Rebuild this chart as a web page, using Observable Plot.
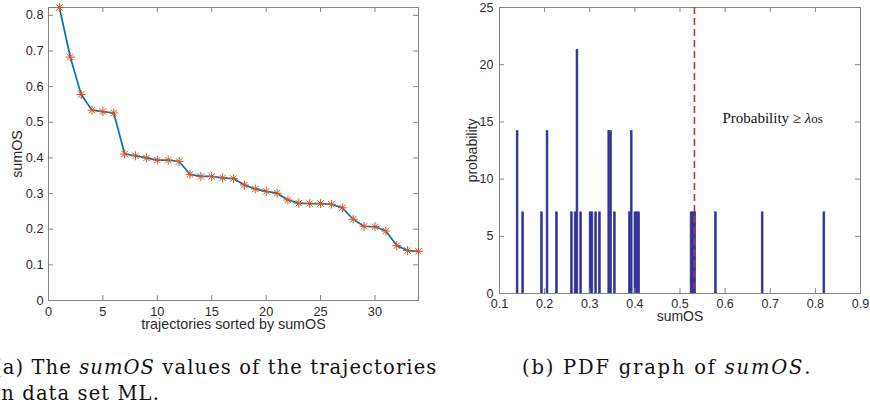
<!DOCTYPE html>
<html><head><meta charset="utf-8">
<script src="https://cdn.jsdelivr.net/npm/d3@7"></script>
<script src="https://cdn.jsdelivr.net/npm/@observablehq/plot@0.6"></script>
<style>
body{margin:0;background:#fff;}
#wrap{position:relative;width:870px;height:412px;overflow:hidden;background:#fff;}
.panel{position:absolute;top:0;}
.cap{position:absolute;font-family:"DejaVu Serif",serif;font-size:19.5px;color:#111;white-space:pre;line-height:26px;}
</style></head><body>
<div id="wrap">
  <div id="left" class="panel" style="left:0px"></div>
  <div id="right" class="panel" style="left:440px"></div>
  <div class="cap" style="left:-6px;top:355px;letter-spacing:1.1px">(a) The <i>sumOS</i> values of the trajectories
in data set ML.</div>
  <div class="cap" style="left:522px;top:355px;letter-spacing:1.8px">(b) PDF graph of <i>sumOS</i>.</div>
</div>
<script>
// ---- data ----
const trajectory = [1,2,3,4,5,6,7,8,9,10,11,12,13,14,15,16,17,18,19,20,21,22,23,24,25,26,27,28,29,30,31,32,33,34];
const sumOS = [0.822,0.683,0.578,0.534,0.530,0.526,0.411,0.406,0.400,0.394,0.394,0.390,0.354,0.348,0.348,0.344,0.342,0.324,0.313,0.306,0.301,0.282,0.273,0.272,0.272,0.270,0.260,0.228,0.208,0.207,0.195,0.154,0.140,0.138];
const xTicksA = [0,5,10,15,20,25,30];
const yTicksA = [0,0.1,0.2,0.3,0.4,0.5,0.6,0.7,0.8];
const xTicksB = [0.1,0.2,0.3,0.4,0.5,0.6,0.7,0.8,0.9];
const yTicksB = [0,5,10,15,20,25];
const histBins = 165;
const lambdaOS = 0.532;
const annotation = ["Probability ≥ λos"];
const labelsA = {x: "trajectories sorted by sumOS", y: "sumOS"};
const labelsB = {x: "sumOS", y: "probability"};

// ---- styles ----
const FRAME = "#858585", TXT = "#2b2b2b", FONT = "'Liberation Sans', Arial, sans-serif";
const LINE = "#0072BD", STAR = "#D95319", BAR = "#333399", RED = "#b8393a";

// ---- left chart ----
const A = {w: 440, h: 335, l: 48, r: 22, t: 7, b: 35};
const iwA = A.w - A.l - A.r, ihA = A.h - A.t - A.b;
const rows = trajectory.map((t, i) => ({t, v: sumOS[i]}));
const left = Plot.plot({
  width: A.w, height: A.h, marginLeft: A.l, marginRight: A.r, marginTop: A.t, marginBottom: A.b,
  style: {fontFamily: FONT, fontSize: "12.8px", background: "white", overflow: "visible"},
  x: {domain: [0, 34], axis: null},
  y: {domain: [0, 0.822], axis: null},
  marks: [
    Plot.frame({stroke: FRAME}),
    Plot.tickX(xTicksA, {x: d => d, stroke: FRAME, insetTop: ihA - 5}),
    Plot.tickX(xTicksA, {x: d => d, stroke: FRAME, insetBottom: ihA - 5}),
    Plot.tickY(yTicksA, {y: d => d, stroke: FRAME, insetRight: iwA - 5}),
    Plot.tickY(yTicksA, {y: d => d, stroke: FRAME, insetLeft: iwA - 5}),
    Plot.text(xTicksA, {x: d => d, text: d => String(d), frameAnchor: "bottom", lineAnchor: "middle", textAnchor: "middle", dy: 11, fill: TXT}),
    Plot.text(yTicksA, {y: d => d, text: d => String(+d.toFixed(2)), frameAnchor: "left", lineAnchor: "middle", dx: -5, textAnchor: "end", fill: TXT}),
    Plot.text([labelsA.x], {frameAnchor: "bottom", lineAnchor: "middle", textAnchor: "middle", dy: 23.5, fontSize: 14.3, fill: TXT}),
    Plot.text([labelsA.y], {frameAnchor: "left", lineAnchor: "middle", textAnchor: "middle", dx: -31, rotate: -90, fontSize: 14.3, fill: TXT}),
    Plot.line(rows, {x: "t", y: "v", stroke: LINE, strokeWidth: 1.7}),
    Plot.dot(rows, {x: "t", y: "v", symbol: "plus", r: 3, stroke: STAR, strokeWidth: 1}),
    Plot.dot(rows, {x: "t", y: "v", symbol: "times", r: 3, stroke: STAR, strokeWidth: 1})
  ]
});
document.getElementById("left").appendChild(left);

// ---- right chart ----
const B = {w: 430, h: 335, l: 59, r: 10, t: 7, b: 42};
const iwB = B.w - B.l - B.r, ihB = B.h - B.t - B.b;
const [vmin, vmax] = d3.extent(sumOS);
const binW = (vmax - vmin) / histBins;
const thresholds = d3.range(histBins).map(i => vmin + i * binW).concat([vmax + 1e-9]);
const right = Plot.plot({
  width: B.w, height: B.h, marginLeft: B.l, marginRight: B.r, marginTop: B.t, marginBottom: B.b,
  style: {fontFamily: FONT, fontSize: "12.5px", background: "white", overflow: "visible"},
  x: {domain: [0.1, 0.9], axis: null},
  y: {domain: [0, 25], axis: null},
  marks: [
    Plot.rectY(sumOS, Plot.binX({y: v => v.length / (sumOS.length * binW)}, {x: d => d, thresholds, fill: BAR, stroke: BAR, strokeWidth: 0.6, inset: 0})),
    Plot.ruleY([0], {stroke: BAR, strokeWidth: 1.2}),
    Plot.frame({stroke: FRAME}),
    Plot.tickX(xTicksB, {x: d => d, stroke: FRAME, insetTop: ihB - 5}),
    Plot.tickX(xTicksB, {x: d => d, stroke: FRAME, insetBottom: ihB - 5}),
    Plot.tickY(yTicksB, {y: d => d, stroke: FRAME, insetRight: iwB - 5}),
    Plot.tickY(yTicksB, {y: d => d, stroke: FRAME, insetLeft: iwB - 5}),
    Plot.ruleX([lambdaOS], {stroke: RED, strokeWidth: 1.6, strokeDasharray: "7,4"}),
    Plot.text(xTicksB, {x: d => d, text: d => d.toFixed(1), frameAnchor: "bottom", lineAnchor: "middle", textAnchor: "middle", dy: 10, fill: TXT}),
    Plot.text(yTicksB, {y: d => d, text: d => String(d), frameAnchor: "left", lineAnchor: "middle", dx: -6, textAnchor: "end", fill: TXT}),
    Plot.text([labelsB.x], {frameAnchor: "bottom", lineAnchor: "middle", textAnchor: "middle", dy: 23, fontSize: 14, fill: TXT}),
    Plot.text([labelsB.y], {frameAnchor: "left", lineAnchor: "middle", textAnchor: "middle", dx: -27, rotate: -90, fontSize: 14, fill: TXT}),
    Plot.text(annotation, {x: () => lambdaOS, frameAnchor: "top", lineAnchor: "middle", dx: 28, dy: 111, textAnchor: "start",
      fontFamily: "'Liberation Serif', 'Times New Roman', serif", fontSize: 15, fill: "#111"})
  ]
});
document.getElementById("right").appendChild(right);

// style the λ and subscript in the annotation
right.querySelectorAll("text").forEach(t => {
  if (t.textContent === annotation[0]) {
    t.textContent = "";
    const parts = [["Probability ≥ ", {}], ["λ", {"font-style": "italic"}], ["os", {"font-size": "13px"}]];
    for (const [s, attrs] of parts) {
      const ts = document.createElementNS("http://www.w3.org/2000/svg", "tspan");
      ts.textContent = s;
      for (const k in attrs) ts.setAttribute(k, attrs[k]);
      t.appendChild(ts);
    }
  }
});
</script>
</body></html>
